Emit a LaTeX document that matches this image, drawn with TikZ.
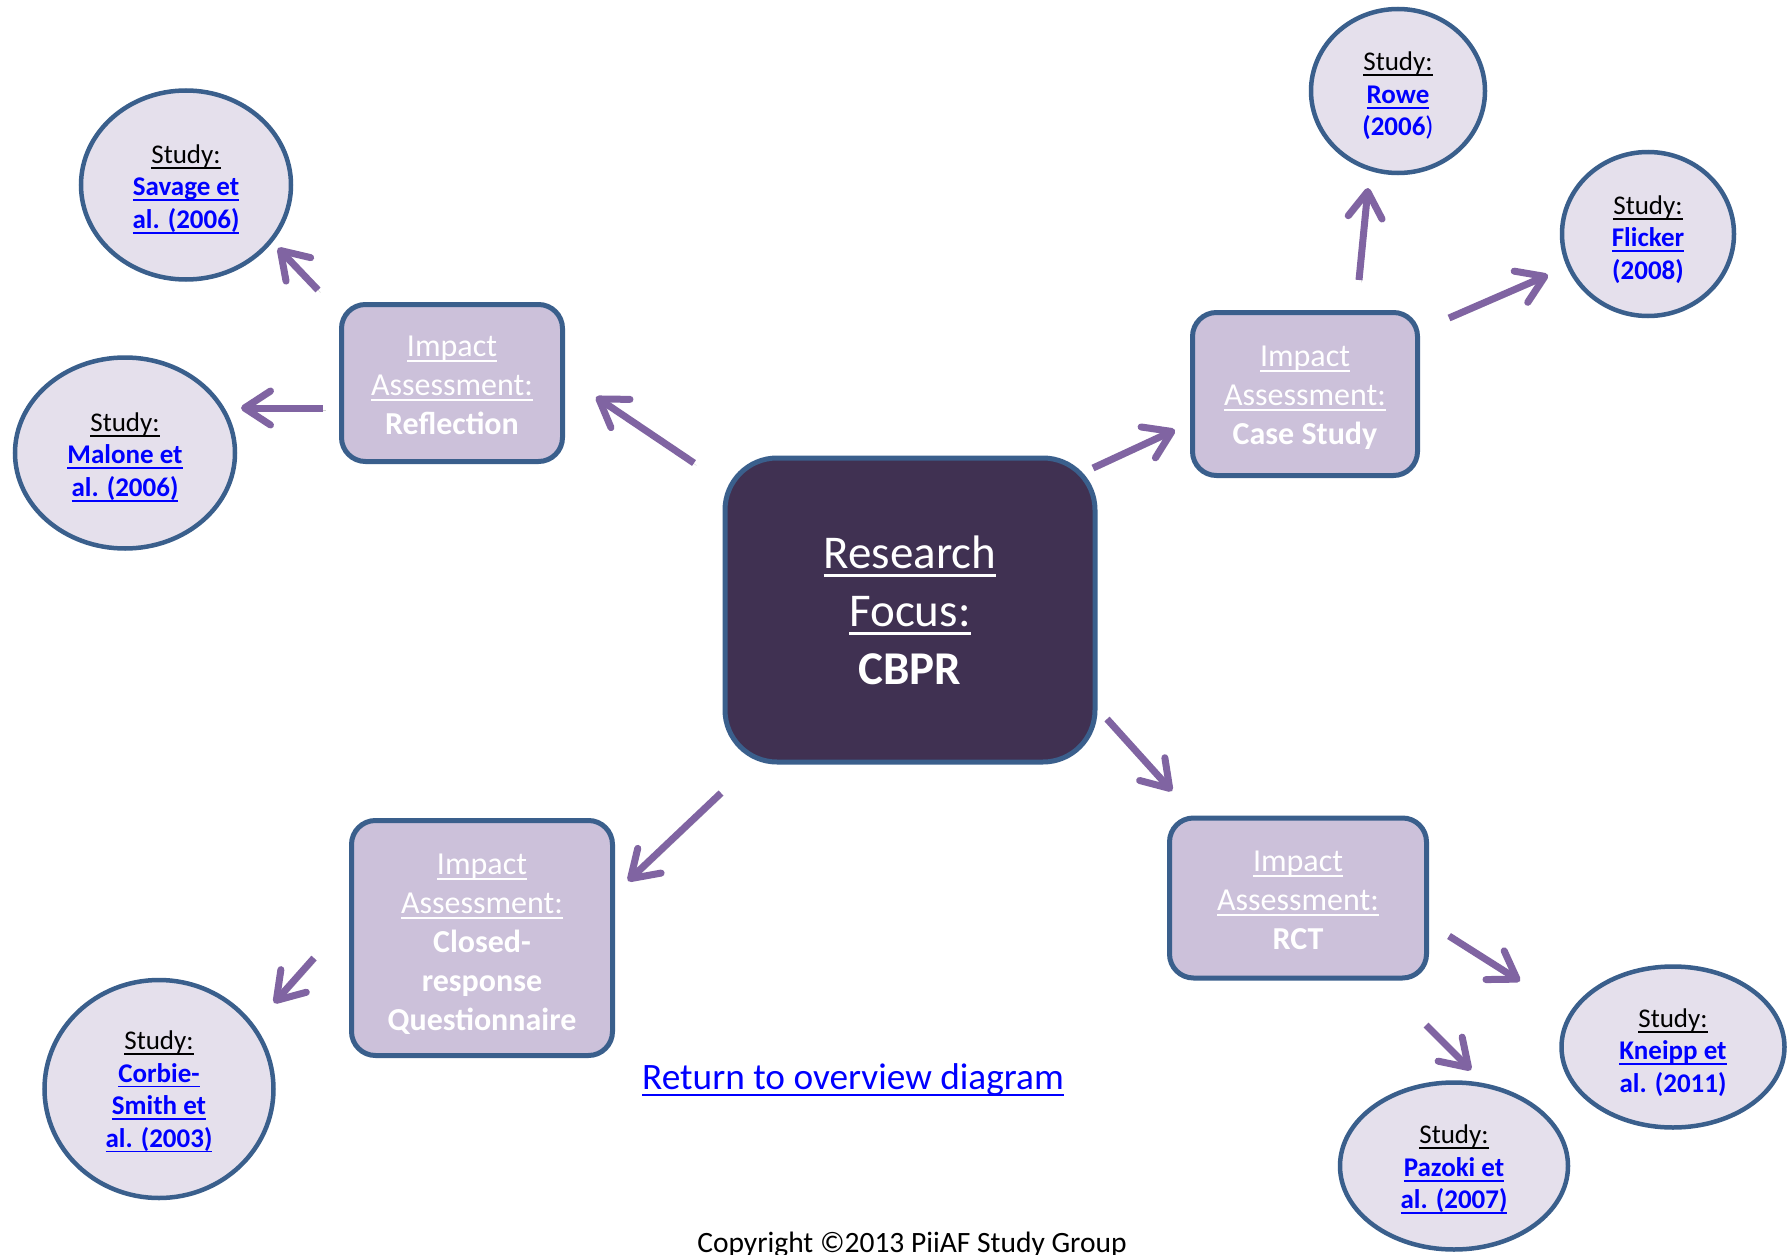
\documentclass[tikz,border=0pt]{standalone}
\usepackage{fontspec}
\setmainfont{Carlito}
\usetikzlibrary{shapes.geometric,arrows.meta}
\definecolor{ringblue}{HTML}{3A5F8C}
\definecolor{studyfill}{HTML}{E5E0EC}
\definecolor{impactfill}{HTML}{CCC1DA}
\definecolor{focusfill}{HTML}{403152}
\definecolor{arrowpurple}{HTML}{8064A2}
\definecolor{linkblue}{HTML}{0000FF}
% underline at a fixed depth below the baseline
\newcommand\myul[1]{\setbox0=\hbox{#1}\rlap{\rule[-0.19em]{\wd0}{0.065em}}\box0}
\newcommand\lnk[1]{{\color{linkblue}\bfseries\myul{#1}}}
\newcommand\lnkplain[1]{{\color{linkblue}\bfseries #1}}
% a taller first line pushes a text block a little lower in its shape
\newcommand\tallfirst[1]{\rule{0pt}{#1}}
\begin{document}
\begin{tikzpicture}[x=1pt,y=-1pt,
  study/.style={ellipse, draw=ringblue, line width=4.5pt, fill=studyfill,
    inner sep=0pt, align=center, font=\fontsize{27}{32.5}\selectfont},
  impact/.style={rectangle, rounded corners=24pt, draw=ringblue, line width=5pt,
    fill=impactfill, inner sep=0pt, align=center, text=white,
    font=\fontsize{32}{39}\selectfont},
  focus/.style={rectangle, rounded corners=52pt, draw=ringblue, line width=5pt,
    fill=focusfill, inner sep=0pt, align=center, text=white,
    font=\fontsize{47}{58}\selectfont},
  conn/.style={draw=arrowpurple, line width=7pt,
    -{Straight Barb[length=26pt,width=34pt,line cap=round,line join=round]},
    preaction={draw=black, opacity=0.18, transform canvas={shift={(2.5pt,-2.5pt)}}}}
]
\useasboundingbox[fill=white] (0,0) rectangle (1789,1255);

% central focus
\node[focus, minimum width=370pt, minimum height=304pt] (focus) at (910,610)
  {\myul{Research}\\\myul{Focus:}\\\textbf{CBPR}};

% impact assessment boxes
\node[impact, minimum width=221pt, minimum height=157pt] (refl) at (452,383)
  {\tallfirst{25pt}\myul{Impact}\\\myul{Assessment:}\\\textbf{Reflection}};
\node[impact, minimum width=225pt, minimum height=163pt] (case) at (1305,394)
  {\tallfirst{27.5pt}\myul{Impact}\\\myul{Assessment:}\\\textbf{Case Study}};
\node[impact, minimum width=257pt, minimum height=160pt] (rct) at (1298,898)
  {\tallfirst{25pt}\myul{Impact}\\\myul{Assessment:}\\\textbf{RCT}};
\node[impact, minimum width=261pt, minimum height=235pt] (closed) at (482,938)
  {\tallfirst{32pt}\myul{Impact}\\\myul{Assessment:}\\\textbf{Closed-}\\\textbf{response}\\\textbf{Questionnaire}};

% studies
\node[study, minimum width=210pt, minimum height=189pt] (savage) at (186,185)
  {\tallfirst{27pt}\myul{Study:}\\\lnk{Savage et}\\\lnk{al. (2006)}};
\node[study, minimum width=220pt, minimum height=191pt] (malone) at (125,453)
  {\tallfirst{27pt}\myul{Study:}\\\lnk{Malone et}\\\lnk{al. (2006)}};
\node[study, minimum width=174pt, minimum height=164pt] (rowe) at (1398,91)
  {\tallfirst{29pt}\myul{Study:}\\\lnk{Rowe}\\{\color{linkblue}\textbf{(2006})}};
\node[study, minimum width=172pt, minimum height=164pt] (flicker) at (1648,234)
  {\tallfirst{30pt}\myul{Study:}\\\lnk{Flicker}\\\lnkplain{(2008)}};
\node[study, minimum width=223pt, minimum height=161pt] (kneipp) at (1673,1047)
  {\tallfirst{30pt}\myul{Study:}\\\lnk{Kneipp et}\\\lnkplain{al. (2011)}};
\node[study, minimum width=228pt, minimum height=167pt] (pazoki) at (1454,1166)
  {\tallfirst{26pt}\myul{Study:}\\\lnk{Pazoki et}\\\lnk{al. (2007)}};
\node[study, minimum width=229pt, minimum height=218pt] (corbie) at (159,1089)
  {\tallfirst{24pt}\myul{Study:}\\\lnk{Corbie-}\\\lnk{Smith et}\\\lnk{al. (2003)}};

% connector end points
\coordinate (f-r1) at (694,463);   \coordinate (f-r2) at (596,397);
\coordinate (r-s1) at (318,290);   \coordinate (r-s2) at (278,248);
\coordinate (r-m1) at (323,408);   \coordinate (r-m2) at (241,408);
\coordinate (f-c1) at (1093,468);  \coordinate (f-c2) at (1175,430);
\coordinate (c-w1) at (1359,280);  \coordinate (c-w2) at (1368,188);
\coordinate (c-l1) at (1449,318);  \coordinate (c-l2) at (1548,275);
\coordinate (f-t1) at (1107,719);  \coordinate (f-t2) at (1172,791);
\coordinate (t-k1) at (1449,936);  \coordinate (t-k2) at (1520,981);
\coordinate (t-p1) at (1426,1025); \coordinate (t-p2) at (1471,1070);
\coordinate (f-q1) at (721,793);   \coordinate (f-q2) at (628,881);
\coordinate (q-b1) at (314,958);   \coordinate (q-b2) at (274,1003);

\draw[conn] (f-r1) -- (f-r2);
\draw[conn] (r-s1) -- (r-s2);
\draw[conn] (r-m1) -- (r-m2);
\draw[conn] (f-c1) -- (f-c2);
\draw[conn] (c-w1) -- (c-w2);
\draw[conn] (c-l1) -- (c-l2);
\draw[conn] (f-t1) -- (f-t2);
\draw[conn] (t-k1) -- (t-k2);
\draw[conn] (t-p1) -- (t-p2);
\draw[conn] (f-q1) -- (f-q2);
\draw[conn] (q-b1) -- (q-b2);

% footer texts
\node[anchor=base, inner sep=0pt, text=linkblue, font=\fontsize{37.3}{44}\selectfont]
  (back) at (853,1089) {\myul{Return to overview diagram}};
\node[anchor=base, inner sep=0pt, font=\fontsize{29.5}{35}\selectfont]
  (copy) at (912,1252) {Copyright ©2013 PiiAF Study Group};
\end{tikzpicture}
\end{document}
